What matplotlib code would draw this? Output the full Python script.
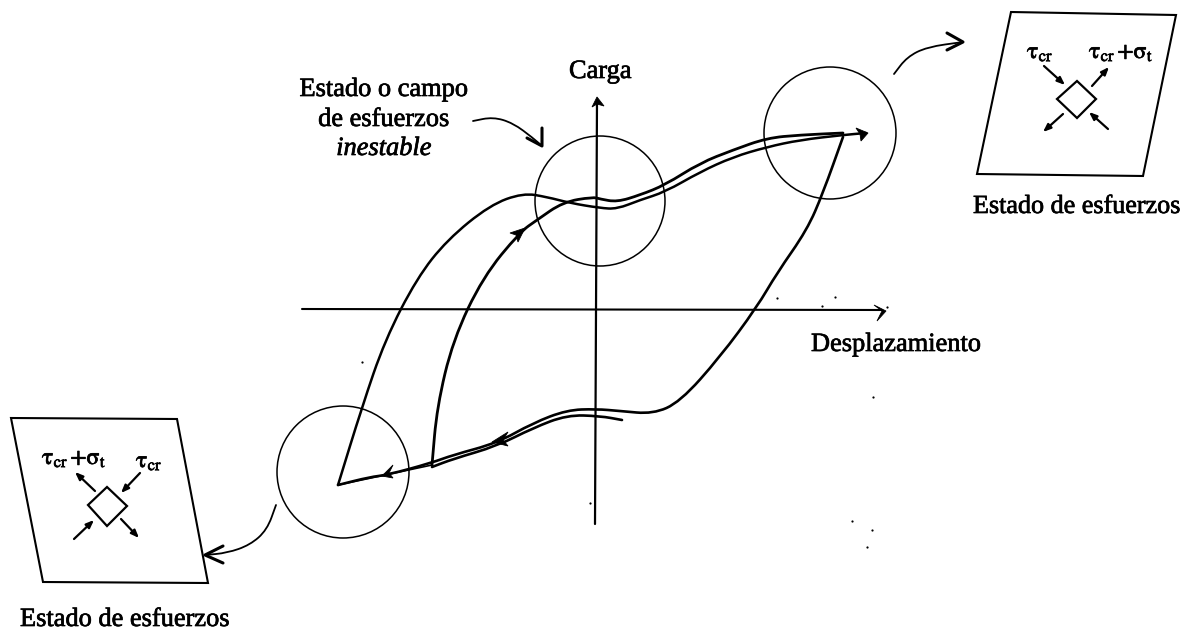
import numpy as np
import matplotlib
matplotlib.use('Agg')
import matplotlib.pyplot as plt
import matplotlib.patheffects as pe
from matplotlib.path import Path
from matplotlib.patches import PathPatch, Circle, Polygon

plt.rcParams['font.family'] = ['Liberation Serif', 'DejaVu Serif']
plt.rcParams['mathtext.fontset'] = 'stix'

# everything in pixels (y downwards)
X_AXIS = [(302, 309), (882, 310)]
Y_AXIS = [(595, 524), (597, 100)]
CIRCLES = [(600, 201, 65), (830, 133, 66), (343, 472, 66)]

# loading branches
OUTER_UP = [(338, 485), (362, 407), (385, 340), (417, 278), (447, 240), (490, 205),
            (523, 193), (547, 197), (570, 203), (600, 208), (617, 209), (640, 200),
            (665, 192), (700, 172), (733, 157), (767, 147), (800, 140), (843, 135), (866, 133)]
INNER_UP = [(432, 465), (437, 407), (453, 340), (483, 277), (520, 232), (537, 220),
            (563, 202), (593, 197), (600, 199), (617, 202), (640, 195), (665, 185),
            (700, 163), (733, 150), (767, 138), (800, 135), (843, 133)]
# unloading branches
DOWN = [(843, 137), (823, 193), (807, 230), (777, 273), (757, 307), (720, 357), (680, 402),
        (653, 414), (620, 411), (596, 409), (567, 410), (533, 423), (497, 443), (453, 455),
        (431, 463), (387, 475), (370, 477), (338, 485)]
DOWN_2 = [(622, 420), (600, 416), (567, 415), (533, 428), (497, 446), (453, 459), (432, 467)]
STRAIGHT_ENDS = [(338, 485), (432, 465)]

# arrow heads: tip, barb, notch, barb
HEADS = [
    [(868, 133), (856, 128), (860, 134), (861, 141)],
    [(525, 228), (510, 233), (516, 235), (518, 242)],
    [(492, 442), (508, 432), (503, 440), (508, 446)],
    [(382, 476), (393, 465), (389, 473), (393, 478)],
    [(597, 97), (592, 107), (597, 104), (604, 106)],
    [(886, 311), (874, 305), (882, 311), (877, 321)],
]

# left and right stress panels
PANEL_R = [(1011, 12), (1176, 15), (1143, 176), (977, 174)]
DIAMOND_R = [(1077, 81), (1096, 99), (1077, 118), (1057, 99)]
ARROWS_R = [((1044, 66), (1065, 85)), ((1092, 86), (1109, 67)),
            ((1063, 114), (1043, 132)), ((1108, 129), (1089, 112))]
PANEL_L = [(11, 418), (177, 419), (208, 583), (43, 582)]
DIAMOND_L = [(107, 487), (127, 506), (107, 526), (88, 505)]
ARROWS_L = [((95, 491), (75, 472)), ((140, 473), (121, 493)),
            ((74, 539), (94, 520)), ((121, 519), (139, 538))]

# curved pointers, and their open heads
POINTER_R = [(894, 74), (907, 57), (927, 47), (963, 42)]
POINTER_R_BARBS = [(947, 33), (963, 42), (947, 50)]
POINTER_L = [(276, 505), (267, 530), (250, 545), (227, 553), (205, 555)]
POINTER_L_BARBS = [(223, 546), (205, 555), (223, 563)]
POINTER_C = [(473, 121), (493, 117), (513, 123), (533, 138), (542, 146)]
POINTER_C_BARBS = [(542, 128), (542, 146), (527, 138)]

# scanner dust
SPECKS = [(777, 298), (835, 297), (822, 306), (887, 307), (362, 362), (590, 503),
          (873, 397), (852, 521), (872, 530), (867, 547)]

LABEL_STATE = 'Estado de esfuerzos'
TAU = r'$\mathrm{\tau}_{\mathrm{cr}}$'
TAU_SIGMA = r'$\mathrm{\tau}_{\mathrm{cr}}\,{+}\mathrm{\sigma}_{\mathrm{t}}$'
BOLDER = [pe.withStroke(linewidth=0.5, foreground='black')]


def smooth(ax, pts, lw):
    # quadratic segments through the midpoints of the read points
    pts = np.array(pts, dtype=float)
    mids = (pts[:-1] + pts[1:]) / 2
    verts = [pts[0], mids[0]]
    codes = [Path.MOVETO, Path.LINETO]
    for i in range(1, len(pts) - 1):
        verts += [pts[i], mids[i]]
        codes += [Path.CURVE3, Path.CURVE3]
    verts.append(pts[-1])
    codes.append(Path.LINETO)
    ax.add_patch(PathPatch(Path(verts, codes), fc='none', ec='black', lw=lw,
                           capstyle='round', joinstyle='round'))


def line(ax, pts, lw):
    ax.plot(*zip(*pts), color='black', lw=lw, solid_capstyle='round', solid_joinstyle='round')


def label(ax, x, y, s, size=19, ha='left', **kw):
    ax.text(x, y, s, fontsize=size, ha=ha, va='baseline', path_effects=BOLDER, **kw)


def main():
    fig = plt.figure(figsize=(11.87, 6.31), dpi=100)
    ax = fig.add_axes([0, 0, 1, 1])
    ax.set_xlim(0, 1187)
    ax.set_ylim(631, 0)
    ax.axis('off')

    line(ax, X_AXIS, 1.5)
    line(ax, Y_AXIS, 1.6)
    for cx, cy, r in CIRCLES:
        ax.add_patch(Circle((cx, cy), r, fc='none', ec='black', lw=1.1))

    smooth(ax, OUTER_UP, 1.8)
    smooth(ax, INNER_UP, 2.0)
    smooth(ax, DOWN, 1.9)
    smooth(ax, DOWN_2, 1.9)
    line(ax, STRAIGHT_ENDS, 1.2)
    for head in HEADS:
        ax.add_patch(Polygon(head, closed=True, fc='black', ec='black', lw=0.6))

    for panel, diamond, arrows in ((PANEL_R, DIAMOND_R, ARROWS_R), (PANEL_L, DIAMOND_L, ARROWS_L)):
        ax.add_patch(Polygon(panel, closed=True, fc='none', ec='black', lw=1.5))
        ax.add_patch(Polygon(diamond, closed=True, fc='none', ec='black', lw=1.6))
        for start, end in arrows:
            ax.annotate('', xy=end, xytext=start,
                        arrowprops=dict(arrowstyle='-|>,head_length=0.45,head_width=0.18',
                                        color='black', lw=1.6, shrinkA=0, shrinkB=0))

    for curve, barbs in ((POINTER_R, POINTER_R_BARBS), (POINTER_L, POINTER_L_BARBS),
                         (POINTER_C, POINTER_C_BARBS)):
        smooth(ax, curve, 1.3)
        line(ax, barbs, 2.2)

    ax.plot(*zip(*SPECKS), ls='none', marker='o', ms=1.6, color='black', mew=0)

    label(ax, 384, 96, 'Estado o campo', ha='center')
    label(ax, 384, 126, 'de esfuerzos', ha='center')
    label(ax, 384, 155, 'inestable', ha='center', style='italic')
    label(ax, 569, 78, 'Carga')
    label(ax, 811, 351, 'Desplazamiento')
    label(ax, 973, 213, LABEL_STATE, size=18.8)
    label(ax, 20, 626, LABEL_STATE)

    label(ax, 1027, 58, TAU, size=17)
    label(ax, 1089, 58, TAU_SIGMA, size=17)
    label(ax, 42, 464, TAU_SIGMA, size=17)
    label(ax, 136, 467, TAU, size=17)

    fig.savefig('out.png', dpi=100)


if __name__ == '__main__':
    main()
